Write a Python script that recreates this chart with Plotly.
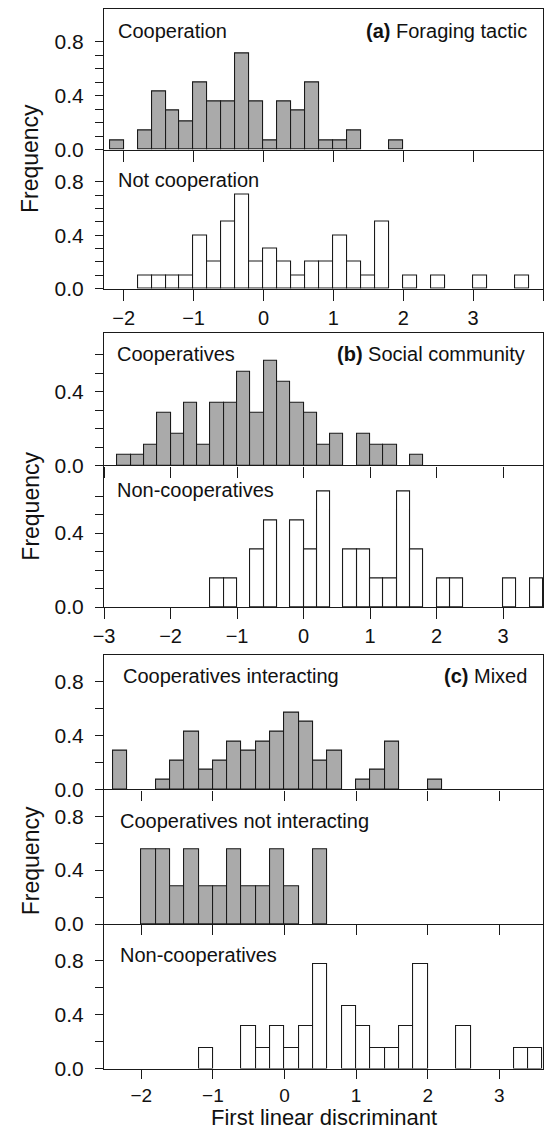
import plotly.graph_objects as go

W, H = 544, 1141
BIN_WIDTH = 0.2

# ---------------- data (bin left edges, frequency) ----------------
# (a) Foraging tactic
COOP_A_EDGES = [-2.2, -1.8, -1.6, -1.4, -1.2, -1.0, -0.8, -0.6, -0.4, -0.2, 0.0, 0.2, 0.4, 0.6, 0.8, 1.0, 1.2, 1.8]
COOP_A_FREQ = [0.07, 0.14, 0.43, 0.29, 0.21, 0.50, 0.36, 0.36, 0.71, 0.36, 0.07, 0.36, 0.29, 0.50, 0.07, 0.07, 0.14, 0.07]

NOTCOOP_A_EDGES = [-1.8, -1.6, -1.4, -1.2, -1.0, -0.8, -0.6, -0.4, -0.2, 0.0, 0.2, 0.4, 0.6, 0.8, 1.0, 1.2, 1.4, 1.6, 2.0, 2.4, 3.0, 3.6]
NOTCOOP_A_FREQ = [0.1, 0.1, 0.1, 0.1, 0.4, 0.2, 0.5, 0.7, 0.2, 0.3, 0.2, 0.1, 0.2, 0.2, 0.4, 0.2, 0.1, 0.5, 0.1, 0.1, 0.1, 0.1]

# (b) Social community
COOP_B_EDGES = [-2.8, -2.6, -2.4, -2.2, -2.0, -1.8, -1.6, -1.4, -1.2, -1.0, -0.8, -0.6, -0.4, -0.2, 0.0, 0.2, 0.4, 0.8, 1.0, 1.2, 1.6]
COOP_B_FREQ = [0.057, 0.057, 0.114, 0.284, 0.170, 0.341, 0.114, 0.341, 0.341, 0.511, 0.284, 0.568, 0.455, 0.341, 0.284, 0.114, 0.170, 0.170, 0.114, 0.114, 0.057]

NONCOOP_B_EDGES = [-1.4, -1.2, -0.8, -0.6, -0.2, 0.0, 0.2, 0.6, 0.8, 1.0, 1.2, 1.4, 1.6, 2.0, 2.2, 3.0, 3.4]
NONCOOP_B_FREQ = [0.156, 0.156, 0.313, 0.469, 0.469, 0.313, 0.625, 0.313, 0.313, 0.156, 0.156, 0.625, 0.313, 0.156, 0.156, 0.156, 0.156]

# (c) Mixed
COOP_INT_C_EDGES = [-2.4, -1.8, -1.6, -1.4, -1.2, -1.0, -0.8, -0.6, -0.4, -0.2, 0.0, 0.2, 0.4, 0.6, 1.0, 1.2, 1.4, 2.0]
COOP_INT_C_FREQ = [0.286, 0.071, 0.214, 0.429, 0.143, 0.214, 0.357, 0.286, 0.357, 0.429, 0.571, 0.500, 0.214, 0.286, 0.071, 0.143, 0.357, 0.071]

COOP_NOINT_C_EDGES = [-2.0, -1.8, -1.6, -1.4, -1.2, -1.0, -0.8, -0.6, -0.4, -0.2, 0.0, 0.4]
COOP_NOINT_C_FREQ = [0.556, 0.556, 0.278, 0.556, 0.278, 0.278, 0.556, 0.278, 0.278, 0.556, 0.278, 0.556]

NONCOOP_C_EDGES = [-1.2, -0.6, -0.4, -0.2, 0.0, 0.2, 0.4, 0.8, 1.0, 1.2, 1.4, 1.6, 1.8, 2.4, 3.2, 3.4]
NONCOOP_C_FREQ = [0.156, 0.313, 0.156, 0.313, 0.156, 0.313, 0.781, 0.469, 0.313, 0.156, 0.156, 0.313, 0.781, 0.313, 0.156, 0.156]

SUB_LABELS = ["Cooperation", "Not cooperation", "Cooperatives", "Non-cooperatives",
              "Cooperatives interacting", "Cooperatives not interacting", "Non-cooperatives"]
PANEL_TITLES = ["<b>(a)</b> Foraging tactic", "<b>(b)</b> Social community", "<b>(c)</b> Mixed"]
X_TICKS_A = [-2, -1, 0, 1, 2, 3, 4]
X_TICKS_B = [-3, -2, -1, 0, 1, 2, 3]
X_TICKS_C = [-2, -1, 0, 1, 2, 3]
Y_TITLE = "Frequency"
X_TITLE = "First linear discriminant"

GREY = "#aaaaaa"
WHITE = "#ffffff"
LINE = "#1a1a1a"
FONT = "Liberation Sans, Arial, sans-serif"

# ---------------- layout geometry (pixels) ----------------
X_LEFT, X_RIGHT = 95, 543
# (top_px, bottom_px) of each subplot
ROWS = [(9.5, 151), (151, 291.5), (336, 470), (470, 613), (661, 797), (797, 933), (933, 1079)]
X_RANGES = [(-2.28, 4.0)] * 2 + [(-3.0, 3.6)] * 2 + [(-2.52, 3.61)] * 3
Y_TOPS = [1.04, 1.04, 0.72, 0.765, 1.0, 1.0, 1.075]
X_TICKS = [X_TICKS_A] * 2 + [X_TICKS_B] * 2 + [X_TICKS_C] * 3
SHOW_XLABELS = [False, True, False, True, False, False, True]
PANEL_TOP = [True, False, True, False, True, False, False]
TICKLEN_X = [11, 11, 11, 11, 10, 10, 9]

series = [
    (COOP_A_EDGES, COOP_A_FREQ, GREY),
    (NOTCOOP_A_EDGES, NOTCOOP_A_FREQ, WHITE),
    (COOP_B_EDGES, COOP_B_FREQ, GREY),
    (NONCOOP_B_EDGES, NONCOOP_B_FREQ, WHITE),
    (COOP_INT_C_EDGES, COOP_INT_C_FREQ, GREY),
    (COOP_NOINT_C_EDGES, COOP_NOINT_C_FREQ, GREY),
    (NONCOOP_C_EDGES, NONCOOP_C_FREQ, WHITE),
]

def py(p):
    return 1 - p / H

def px(p):
    return p / W

fig = go.Figure()
layout = {}
for i, (edges, freq, col) in enumerate(series):
    k = "" if i == 0 else str(i + 1)
    fig.add_trace(go.Bar(
        x=edges, y=freq, width=BIN_WIDTH, offset=0,
        marker=dict(color=col, line=dict(color=LINE, width=1.1)),
        xaxis="x" + k, yaxis="y" + k, showlegend=False, hoverinfo="x+y",
    ))
    top, bot = ROWS[i]
    if i in (0, 1):
        ytv = [0, 0.1, 0.2, 0.3, 0.4, 0.5, 0.6, 0.7, 0.8]
        ytt = ["0.0", "", "", "", "0.4", "", "", "", "0.8"]
    elif i in (2, 3):
        ytv = [0, 0.1, 0.2, 0.3, 0.4, 0.5, 0.6]
        ytt = ["0.0", "", "", "", "0.4", "", ""]
    else:
        ytv = [0, 0.2, 0.4, 0.6, 0.8]
        ytt = ["0.0", "", "0.4", "", "0.8"]
    layout["xaxis" + k] = dict(
        domain=[px(X_LEFT), px(X_RIGHT)], anchor="y" + k,
        range=list(X_RANGES[i]), tickvals=X_TICKS[i],
        showticklabels=SHOW_XLABELS[i], ticks="outside", ticklen=TICKLEN_X[i], tickwidth=1.3,
        tickcolor=LINE, showline=True, linecolor=LINE, linewidth=1.4,
        mirror=PANEL_TOP[i],
        showgrid=False, zeroline=False, ticklabelstandoff=0,
        tickfont=dict(family=FONT, size=20 if i < 6 else 19, color="#111"),
    )
    layout["yaxis" + k] = dict(
        domain=[py(bot), py(top)], anchor="x" + k,
        range=[0, Y_TOPS[i]], tickvals=ytv, ticktext=ytt,
        ticks="outside", ticklen=8, tickwidth=1.3, tickcolor=LINE,
        showline=True, linecolor=LINE, linewidth=1.4, mirror=True,
        showgrid=False, zeroline=False, ticklabelstandoff=7,
        tickfont=dict(family=FONT, size=21, color="#111"),
    )

annotations = []
label_pos = [(107, 31), (107, 182), (106, 357), (106, 495), (112, 683), (109, 829), (109, 964)]
for (x, y), t in zip(label_pos, SUB_LABELS):
    annotations.append(dict(x=px(x), y=py(y), xref="paper", yref="paper", text=t,
                            showarrow=False, xanchor="left", yanchor="middle",
                            font=dict(family=FONT, size=20, color="#111")))
title_pos = [(529, 31), (527, 357), (529, 683)]
for (x, y), t in zip(title_pos, PANEL_TITLES):
    annotations.append(dict(x=px(x), y=py(y), xref="paper", yref="paper", text=t,
                            showarrow=False, xanchor="right", yanchor="middle",
                            font=dict(family=FONT, size=20, color="#111")))
for y in (160, 511, 869):
    annotations.append(dict(x=px(20), y=py(y), xref="paper", yref="paper", text=Y_TITLE,
                            showarrow=False, xanchor="center", yanchor="middle", textangle=-90,
                            font=dict(family=FONT, size=23, color="#111")))
annotations.append(dict(x=px(319), y=py(1142), xref="paper", yref="paper", text=X_TITLE,
                        showarrow=False, xanchor="center", yanchor="bottom", borderpad=0,
                        font=dict(family=FONT, size=22, color="#111")))

fig.update_layout(
    width=W, height=H, margin=dict(l=0, r=0, t=0, b=0),
    paper_bgcolor="white", plot_bgcolor="white",
    bargap=0, annotations=annotations, **layout,
)
fig.write_html("out.html")
